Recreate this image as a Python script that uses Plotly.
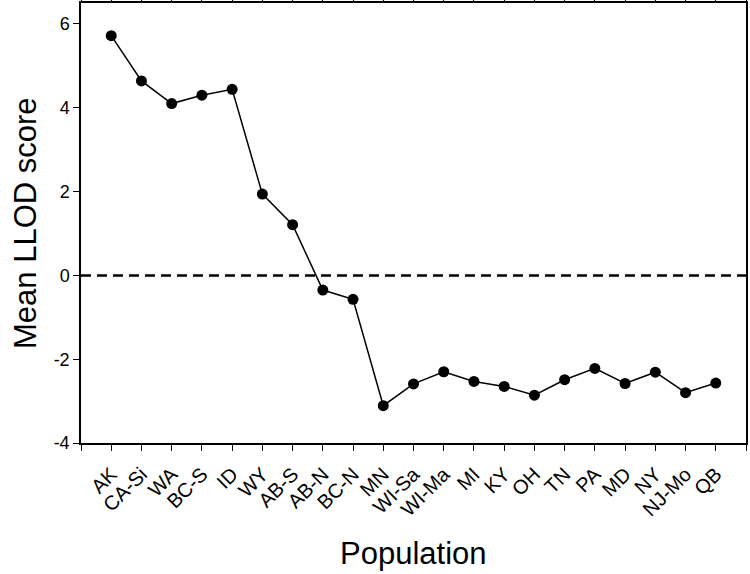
import plotly.graph_objects as go

populations = ["AK", "CA-Si", "WA", "BC-S", "ID", "WY", "AB-S", "AB-N", "BC-N", "MN",
               "WI-Sa", "WI-Ma", "MI", "KY", "OH", "TN", "PA", "MD", "NY", "NJ-Mo", "QB"]
mean_llod = [5.72, 4.64, 4.10, 4.30, 4.44, 1.94, 1.21, -0.35, -0.57, -3.11,
             -2.59, -2.30, -2.53, -2.65, -2.86, -2.49, -2.22, -2.58, -2.31, -2.80, -2.57]
y_ticks = [-4, -2, 0, 2, 4, 6]
y_ticktext = ["-4", "-2", "0", "2", "4", "6"]

idx = list(range(len(populations)))
FONT = "Liberation Sans, Arial, sans-serif"

W, H = 750, 574
ML, MR, MT, MB = 81, 4, 3, 131
PW, PH = W - ML - MR, H - MT - MB

fig = go.Figure()
fig.add_trace(go.Scatter(
    x=idx, y=mean_llod, mode="lines+markers",
    line=dict(color="black", width=1.5),
    marker=dict(color="black", size=11),
    showlegend=False,
))

tickvals = list(range(-1, len(populations) + 1))
ticktext = [""] + populations + [""]

fig.add_shape(type="line", xref="paper", x0=0, x1=1, yref="y", y0=0, y1=0,
              line=dict(color="black", width=2.5, dash="10px,6px"))

fig.add_annotation(text="Population", xref="paper", yref="paper",
                   x=0.5, y=-110 / PH, xanchor="center", yanchor="middle",
                   showarrow=False, font=dict(size=31))
fig.add_annotation(text="Mean LLOD score", xref="paper", yref="paper",
                   x=-56 / PW, y=0.5, xanchor="center", yanchor="middle",
                   textangle=-90, showarrow=False, font=dict(size=31))

fig.update_layout(
    width=W, height=H,
    margin=dict(l=ML, r=MR, t=MT, b=MB),
    paper_bgcolor="white", plot_bgcolor="white",
    font=dict(family=FONT, color="black"),
    xaxis=dict(
        range=[-1, len(populations)], tickmode="array", tickvals=tickvals, ticktext=ticktext,
        tickangle=-45, ticks="outside", ticklen=6, tickwidth=1.2, tickcolor="black",
        showline=True, linecolor="black", linewidth=1.5, mirror="ticks",
        showgrid=False, zeroline=False, tickfont=dict(size=20), automargin=False,
        ticklabelstandoff=4,
    ),
    yaxis=dict(
        range=[-4, 6.5], tickmode="array", tickvals=y_ticks, ticktext=y_ticktext,
        ticks="outside", ticklen=6, tickwidth=1.2, tickcolor="black",
        showline=True, linecolor="black", linewidth=1.5, mirror=True,
        showgrid=False, zeroline=False, tickfont=dict(size=18), automargin=False,
    ),
)

fig.write_html("out.html", post_script="document.body.style.margin='0px';",
               config={"displayModeBar": False})
